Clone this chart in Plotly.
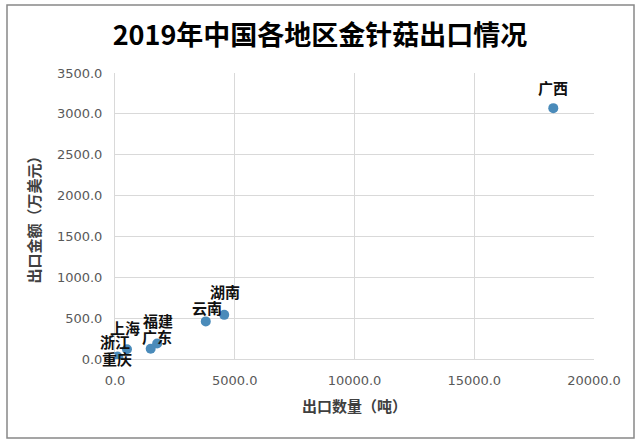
import plotly.graph_objects as go

regions = ["广西", "湖南", "云南", "福建", "广东", "上海", "浙江", "重庆"]
qty = [18300, 4560, 3790, 1760, 1490, 500, 100, 150]
value = [3070, 540, 460, 190, 125, 120, 30, 10]
x_ticks = [0, 5000, 10000, 15000, 20000]
y_ticks = [0, 500, 1000, 1500, 2000, 2500, 3000, 3500]

# label offsets in pixels (dx, dy), style only
label_dx = [0, 1, 1, 1, 6, -2, -2, -2]
label_dy = [21, 23, 14, 23, 12, 22, 15, 0]

fig = go.Figure()
fig.add_trace(go.Scatter(
    x=qty, y=value, mode="markers",
    marker=dict(color="#4a8bba", size=10, line=dict(width=0)),
    hoverinfo="text", text=regions, showlegend=False,
))

for name, xv, yv, dx, dy in zip(regions, qty, value, label_dx, label_dy):
    fig.add_annotation(x=xv, y=yv, text=name, showarrow=False,
                       xshift=dx, yshift=dy,
                       font=dict(family="Noto Sans CJK SC", size=15, color="#111111", weight="bold"))

fig.update_layout(
    width=640, height=442,
    margin=dict(l=115, r=46, t=73, b=83),
    paper_bgcolor="white", plot_bgcolor="white",
    title=dict(text="2019年中国各地区金针菇出口情况", x=0.5, xanchor="center",
               y=1 - 36 / 442, yanchor="middle",
               font=dict(family="Noto Sans CJK SC", size=27, color="#000000", weight="bold")),
    font=dict(family="Noto Sans CJK SC"),
    xaxis=dict(range=[0, 20000], tickvals=x_ticks, tickformat=".1f",
               showgrid=True, gridcolor="#d9d9d9", gridwidth=1,
               zeroline=False, showline=True, linecolor="#d9d9d9",
               ticks="", ticklabelstandoff=9,
               tickfont=dict(family="DejaVu Sans", size=13, color="#595959"),
               title=dict(text="出口数量（吨）", standoff=14,
                          font=dict(family="Noto Sans CJK SC", size=15, color="#404040", weight="bold"))),
    yaxis=dict(range=[0, 3500], tickvals=y_ticks, tickformat=".1f",
               showgrid=True, gridcolor="#d9d9d9", gridwidth=1,
               zeroline=False, showline=True, linecolor="#d9d9d9",
               ticks="", ticklabelstandoff=9,
               tickfont=dict(family="DejaVu Sans", size=13, color="#595959"),
               title=dict(text="出口金额（万美元）", standoff=12,
                          font=dict(family="Noto Sans CJK SC", size=15, color="#404040", weight="bold"))),
    shapes=[dict(type="rect", xref="paper", yref="paper",
                 x0=(7 - 115) / 479, x1=(634 - 115) / 479,
                 y0=(359 - 438) / 286, y1=1 + (73 - 5) / 286,
                 line=dict(color="#888888", width=1.5), layer="below")],
)

fig.write_html("out.html", config={"displayModeBar": False},
               post_script="document.body.style.margin='0';document.body.style.overflow='hidden';")
